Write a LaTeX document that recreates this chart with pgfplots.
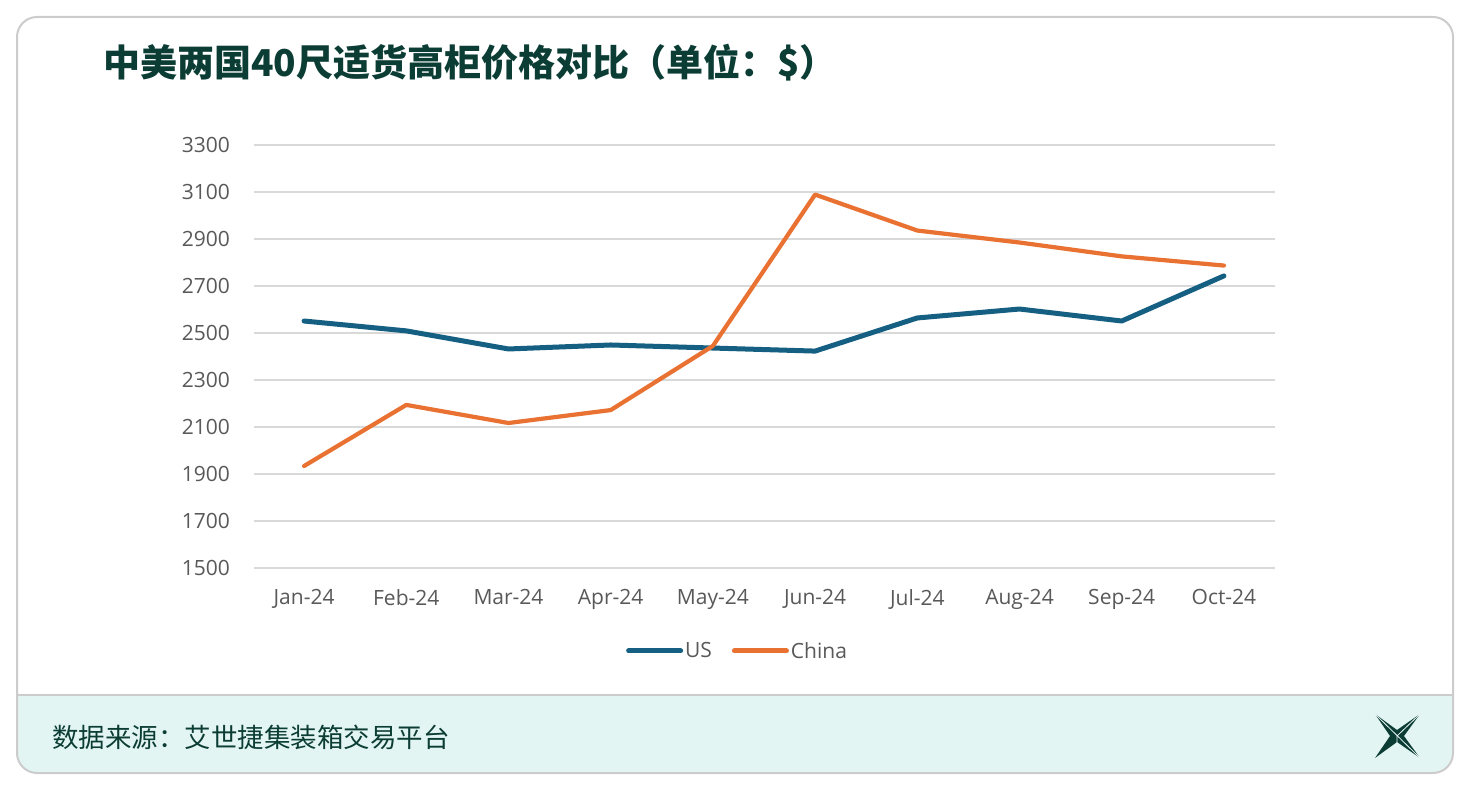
\documentclass[border=0pt]{standalone}
\usepackage{pgfplots}
\pgfplotsset{compat=1.18}
\usepackage{fontspec}
\setmainfont{Open Sans}
\newfontfamily\cjk{Noto Sans CJK SC}
\definecolor{usblue}{HTML}{156082}
\definecolor{cnorange}{HTML}{E97132}
\definecolor{gridgray}{HTML}{D9D9D9}
\definecolor{labgray}{HTML}{595959}
\definecolor{darkgreen}{HTML}{0B3D35}
\definecolor{footfill}{HTML}{E3F5F3}
\definecolor{bordergray}{HTML}{CCCCCC}
\begin{document}
\begin{tikzpicture}
\path[use as bounding box] (0pt,0pt) rectangle (1474pt,792pt);
% card
\begin{scope}
\clip[rounded corners=20pt] (17pt,19pt) rectangle (1453pt,775pt);
\fill[white] (17pt,19pt) rectangle (1453pt,775pt);
\fill[footfill] (17pt,19pt) rectangle (1453pt,97pt);
\draw[bordergray, line width=2pt] (17pt,97pt) -- (1453pt,97pt);
\end{scope}
\draw[bordergray, line width=2pt, rounded corners=20pt] (17pt,19pt) rectangle (1453pt,775pt);
% title
\node[anchor=west, inner sep=0pt, text=darkgreen] at (103pt,729pt) {\cjk\bfseries\fontsize{37}{42}\selectfont 中美两国40尺适货高柜价格对比（单位：\$）};
% footer
\node[anchor=west, inner sep=0pt, text=darkgreen] at (52pt,55pt) {\cjk\fontsize{26.5}{30}\selectfont 数据来源：艾世捷集装箱交易平台};
% logo
\fill[darkgreen] (1375pt,78pt) -- (1397pt,62pt) -- (1420pt,78pt) -- (1404pt,56pt) -- (1420pt,34pt) -- (1397pt,50pt) -- (1375pt,34pt) -- (1390pt,56pt) -- cycle;
\draw[footfill!70!white, line width=0.8pt] (1375pt,78pt) -- (1420pt,34pt);
\draw[footfill!70!white, line width=0.8pt] (1420pt,78pt) -- (1397pt,56pt) -- (1397pt,45pt);
\begin{axis}[
  at={(254pt,224pt)}, anchor=south west,
  scale only axis, width=1021pt, height=423pt,
  xmin=-0.49, xmax=9.5, ymin=1500, ymax=3300,
  ytick={1500,1700,...,3300},
  xtick={0,...,9},
  xticklabels={Jan-24,Feb-24,Mar-24,Apr-24,May-24,Jun-24,Jul-24,Aug-24,Sep-24,Oct-24},
  ymajorgrids, grid style={gridgray, line width=1.6pt},
  axis line style={draw=none},
  major tick style={draw=none},
  /pgf/number format/assume math mode=true,
  /pgf/number format/1000 sep={},
  tick label style={font=\fontsize{21}{24}\selectfont, text=labgray},
  yticklabel style={anchor=east, inner sep=0pt, xshift=-24pt},
  xticklabel style={anchor=north, inner sep=0pt, yshift=-21pt},
  legend style={draw=none, fill=none, at={(0.4736,-0.196)}, anchor=center,
    font=\fontsize{21}{24}\selectfont, text=labgray, legend columns=2,
    /tikz/every even column/.append style={column sep=18pt}},
  legend image code/.code={\draw[#1, line width=5pt, line cap=round] (0pt,0pt) -- (52pt,0pt);},
  legend cell align=left,
]
\addplot[usblue, line width=5pt, line join=round, line cap=round] coordinates {
(0,2551) (1,2509) (2,2432) (3,2449) (4,2436) (5,2423) (6,2564) (7,2602) (8,2551) (9,2743)};
\addlegendentry{US}
\addplot[cnorange, line width=4.2pt, line join=round, line cap=round] coordinates {
(0,1934) (1,2194) (2,2117) (3,2172) (4,2445) (5,3089) (6,2936) (7,2885) (8,2826) (9,2787)};
\addlegendentry{China}
\end{axis}
\end{tikzpicture}
\end{document}
